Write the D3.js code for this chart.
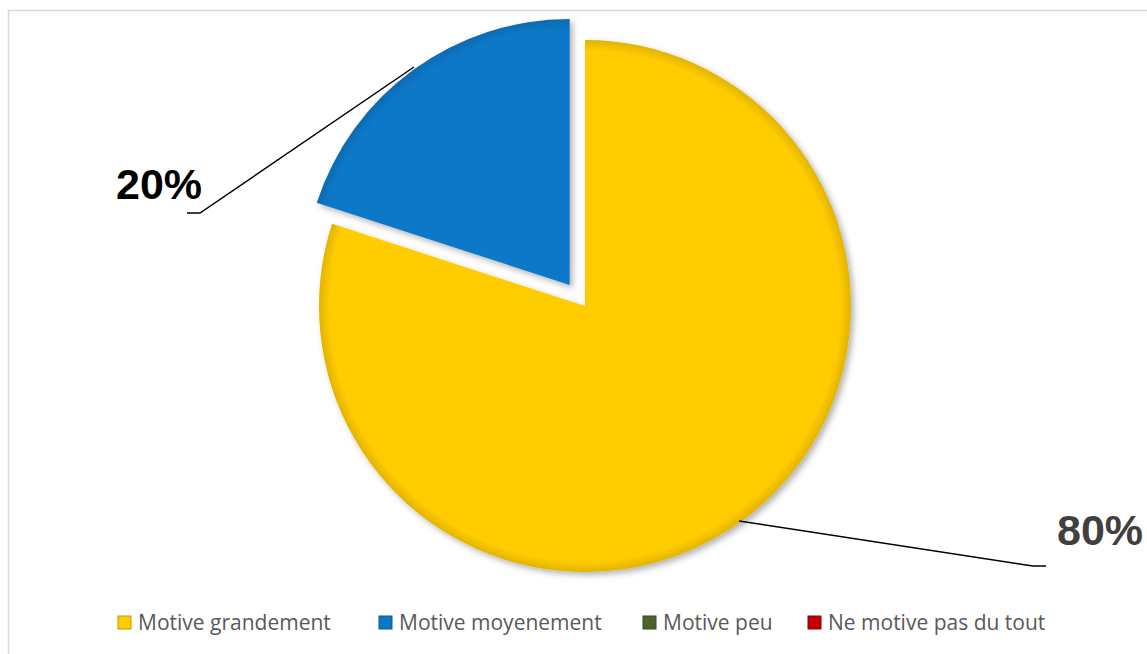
<!DOCTYPE html>
<html>
<head>
<meta charset="utf-8">
<script src="https://cdn.jsdelivr.net/npm/d3@7"></script>
<style>
  body { margin: 0; background: #fff; }
  svg { display: block; }
</style>
</head>
<body>
<svg id="chart" width="1147" height="654"></svg>
<script>
var categories = ["Motive grandement", "Motive moyenement", "Motive peu", "Ne motive pas du tout"];
var values = [80, 20, 0, 0];
var labels = ["80%", "20%", "0%", "0%"];
var colors = ["#FFCC00", "#0A78C8", "#4F6228", "#C00000"];

var svg = d3.select("#chart"),
    width = +svg.attr("width"),
    height = +svg.attr("height");

var cx = 585, cy = 306, radius = 266, explode = 26;

// chart frame (only top and left edges visible)
svg.append("path")
    .attr("d", "M8.5," + height + " L8.5,10.5 L" + width + ",10.5")
    .attr("fill", "none")
    .attr("stroke", "#d9d9d9")
    .attr("stroke-width", 1.5);

var defs = svg.append("defs");
var shadow = defs.append("filter").attr("id", "shadow")
    .attr("x", "-10%").attr("y", "-10%").attr("width", "120%").attr("height", "120%");
shadow.append("feDropShadow")
    .attr("dx", 3).attr("dy", 3).attr("stdDeviation", 3)
    .attr("flood-color", "#000").attr("flood-opacity", 0.3);

colors.forEach(function (c, i) {
    var g = defs.append("radialGradient").attr("id", "grad" + i)
        .attr("gradientUnits", "userSpaceOnUse")
        .attr("cx", 0).attr("cy", 0).attr("r", radius);
    var base = d3.color(c);
    g.append("stop").attr("offset", "0%").attr("stop-color", base);
    g.append("stop").attr("offset", "96%").attr("stop-color", base);
    g.append("stop").attr("offset", "100%").attr("stop-color", base.darker(0.35));
});

var pie = d3.pie().sort(null).value(function (d) { return d; });
var arcs = pie(values);
var arc = d3.arc().innerRadius(0).outerRadius(radius);

var explodeIdx = 1;

var pieG = svg.append("g").attr("transform", "translate(" + cx + "," + cy + ")");

pieG.selectAll("path.slice")
    .data(arcs.filter(function (d) { return d.value > 0; }))
    .enter().append("path")
    .attr("class", "slice")
    .attr("d", arc)
    .attr("fill", function (d) { return "url(#grad" + d.index + ")"; })
    .attr("filter", "url(#shadow)")
    .attr("transform", function (d) {
        if (d.index !== explodeIdx) return null;
        var a = (d.startAngle + d.endAngle) / 2;
        return "translate(" + (explode * Math.sin(a)) + "," + (-explode * Math.cos(a)) + ")";
    });

// leader lines and labels
var leaders = [
    { i: 0, pts: [[739, 521], [1033, 566], [1046, 566]], tx: 1057, ty: 545, fill: "#404040" },
    { i: 1, pts: [[414, 67], [200, 213], [187, 213]], tx: 116, ty: 199, fill: "#000000" }
];

leaders.forEach(function (l) {
    svg.append("path")
        .attr("d", d3.line()(l.pts))
        .attr("fill", "none")
        .attr("stroke", "#000")
        .attr("stroke-width", 1.5);
    svg.append("text")
        .attr("x", l.tx).attr("y", l.ty)
        .attr("font-family", "Liberation Sans, Arial, sans-serif")
        .attr("font-weight", "bold")
        .attr("font-size", 43)
        .attr("fill", l.fill)
        .text(labels[l.i]);
});

// legend
var legendX = [118, 379, 643, 808];
var legend = svg.append("g");
var items = legend.selectAll("g")
    .data(categories)
    .enter().append("g")
    .attr("transform", function (d, i) { return "translate(" + legendX[i] + ",616)"; });

items.append("rect")
    .attr("width", 13).attr("height", 13)
    .attr("fill", function (d, i) { return colors[i]; })
    .attr("stroke", function (d, i) { return d3.color(colors[i]).darker(0.8); })
    .attr("stroke-width", 1);

items.append("text")
    .attr("x", 20).attr("y", 14)
    .attr("font-family", "Open Sans, Noto Sans, sans-serif")
    .attr("font-size", 21)
    .attr("fill", "#595959")
    .text(function (d) { return d; });
</script>
</body>
</html>
